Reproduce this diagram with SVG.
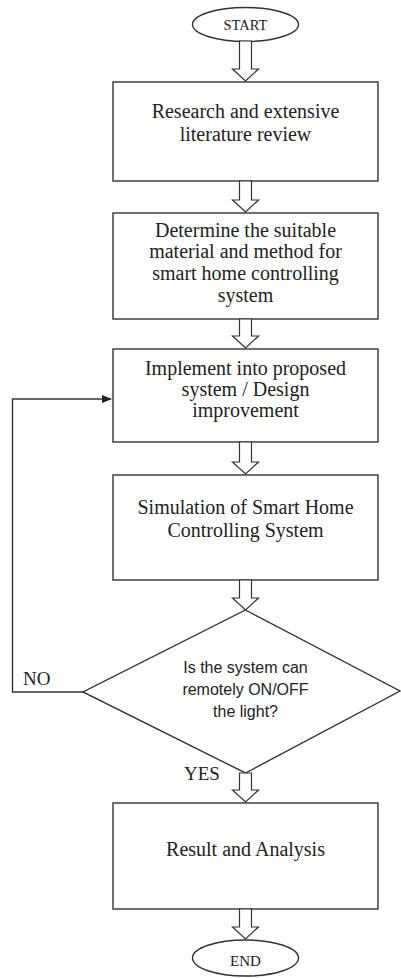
<svg xmlns="http://www.w3.org/2000/svg" width="401" height="978" viewBox="0 0 401 978">
<style>
.shape{fill:#fff;stroke:#333;stroke-width:1.4}
.barrow{fill:#fff;stroke:#333;stroke-width:1.2}
.t{font-family:"Liberation Serif","Times New Roman",serif;font-size:20px;fill:#222;text-anchor:middle}
.ts{font-family:"Liberation Sans",Arial,sans-serif;font-size:16px;fill:#222;text-anchor:middle}
.lbl{font-family:"Liberation Serif","Times New Roman",serif;font-size:19px;fill:#222}
.line{fill:none;stroke:#333;stroke-width:1.4}
</style>
<defs>
<marker id="ah" markerWidth="10" markerHeight="8" refX="9" refY="4" orient="auto" markerUnits="userSpaceOnUse">
<path d="M0,0 L10,4 L0,8 Z" fill="#222"/>
</marker>
</defs>
<rect width="401" height="978" fill="#fff"/>
<g id="start">
<ellipse class="shape" cx="245.5" cy="24.5" rx="53" ry="17"/>
<text class="t" x="245.5" y="30" style="font-size:14.5px">START</text>
</g>
<g id="research">
<rect class="shape" x="113" y="82" width="265" height="99"/>
<text class="t" x="245.5" y="118">Research and extensive</text>
<text class="t" x="245.5" y="141">literature review</text>
</g>
<g id="determine">
<rect class="shape" x="113" y="213" width="265" height="106"/>
<text class="t" x="245.5" y="237">Determine the suitable</text>
<text class="t" x="245.5" y="258">material and method for</text>
<text class="t" x="245.5" y="280">smart home controlling</text>
<text class="t" x="245.5" y="302">system</text>
</g>
<g id="implement">
<rect class="shape" x="113" y="349" width="265" height="93"/>
<text class="t" x="245.5" y="375">Implement into proposed</text>
<text class="t" x="245.5" y="396">system / Design</text>
<text class="t" x="245.5" y="417">improvement</text>
</g>
<g id="simulation">
<rect class="shape" x="113" y="475" width="265" height="105"/>
<text class="t" x="245.5" y="514">Simulation of Smart Home</text>
<text class="t" x="245.5" y="537">Controlling System</text>
</g>
<g id="decision">
<polygon class="shape" points="245.5,610 400,691 245.5,773 83,692"/>
<text class="ts" x="245.5" y="673">Is the system can</text>
<text class="ts" x="245.5" y="695">remotely ON/OFF</text>
<text class="ts" x="245.5" y="717">the light?</text>
</g>
<g id="result">
<rect class="shape" x="113" y="803" width="265" height="106"/>
<text class="t" x="245.5" y="856">Result and Analysis</text>
</g>
<g id="end">
<ellipse class="shape" cx="245.5" cy="958" rx="53" ry="18"/>
<text class="t" x="245.5" y="966" style="font-size:15px">END</text>
</g>
<g id="connectors">
<path class="barrow" d="M239.5,41 H251.5 V69 H258.5 L245.5,81 L232.5,69 H239.5 Z"/>
<path class="barrow" d="M239.5,181 H251.5 V200 H258.5 L245.5,212 L232.5,200 H239.5 Z"/>
<path class="barrow" d="M239.5,319 H251.5 V336 H258.5 L245.5,348 L232.5,336 H239.5 Z"/>
<path class="barrow" d="M239.5,442 H251.5 V462 H258.5 L245.5,474 L232.5,462 H239.5 Z"/>
<path class="barrow" d="M239.5,580 H251.5 V598 H258.5 L245.5,610 L232.5,598 H239.5 Z"/>
<path class="barrow" d="M239.5,773 H251.5 V790 H258.5 L245.5,802 L232.5,790 H239.5 Z"/>
<path class="barrow" d="M239.5,909 H251.5 V927 H258.5 L245.5,939 L232.5,927 H239.5 Z"/>
<polyline class="line" points="83,692 12.5,692 12.5,399 111,399" marker-end="url(#ah)"/>
<text class="lbl" x="23" y="685">NO</text>
<text class="lbl" x="184" y="780">YES</text>
</g>
</svg>
